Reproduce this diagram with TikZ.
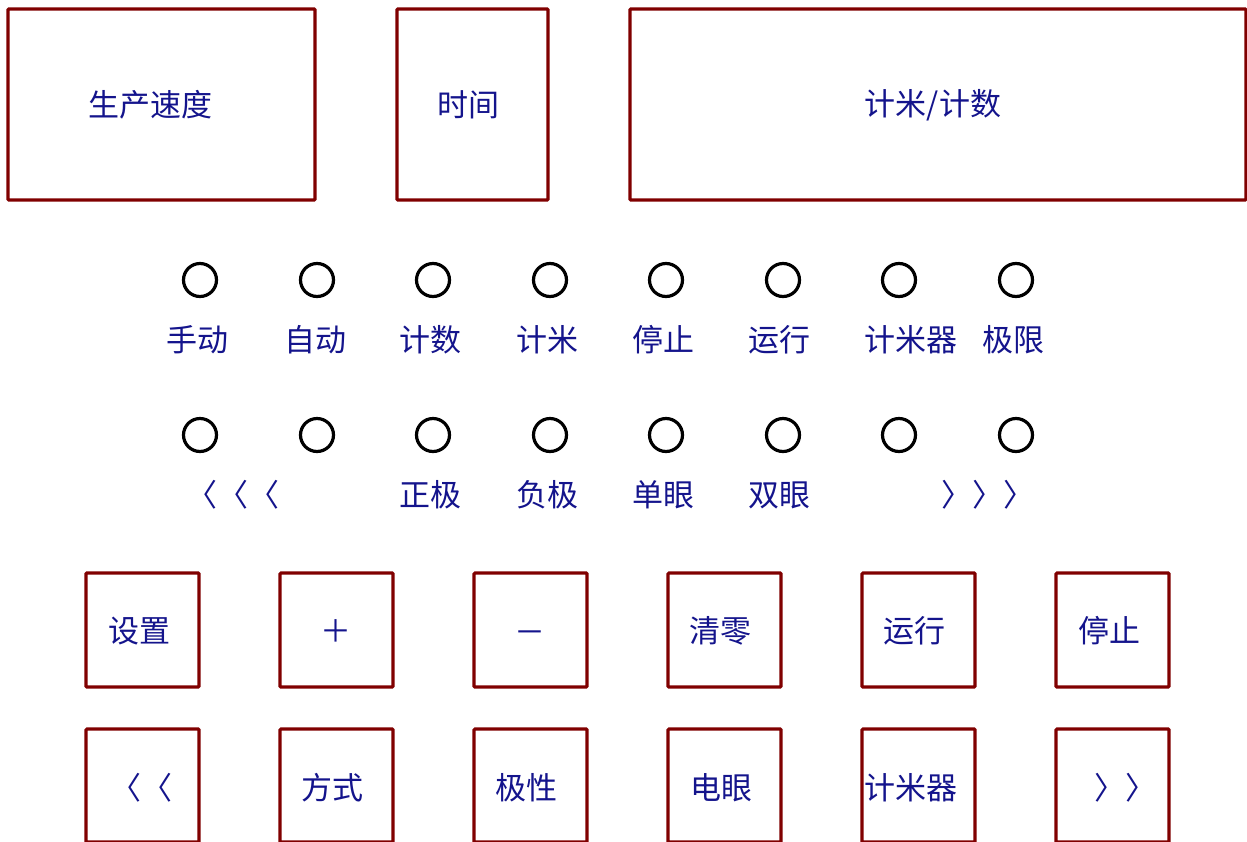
\documentclass[tikz,border=0pt]{standalone}
\usepackage{fontspec}
\setmainfont{Noto Sans CJK SC}
\definecolor{boxred}{RGB}{128,0,0}
\definecolor{txtblue}{RGB}{20,20,140}
\begin{document}
\begin{tikzpicture}[x=1pt,y=-1pt,
  panel/.style={draw=boxred,line width=3.2pt,rounded corners=1pt,inner sep=0pt},
  lamp/.style={draw=black,line width=3.2pt,circle,minimum size=33pt,inner sep=0pt},
  txt/.style={text=txtblue,font=\fontsize{31}{32}\selectfont,inner sep=0pt,anchor=center}]
\useasboundingbox (0,0) rectangle (1247,841);
\clip (0,0) rectangle (1247,841);
% top displays
\node[panel,minimum width=307pt,minimum height=191pt] (b1) at (161.5,104.5) {};
\node[panel,minimum width=151pt,minimum height=191pt] (b2) at (472.5,104.5) {};
\node[panel,minimum width=616pt,minimum height=191pt] (b3) at (938,104.5) {};
\node[txt] (t1) at (150,105) {生产速度};
\node[txt] (t2) at (468,105) {时间};
\node[txt] (t3) at (933,105) {计米/计数};
% lamps row 1
\foreach \i/\x in {1/200,2/317,3/433,4/550,5/666,6/783,7/899,8/1016}
  \node[lamp] (la\i) at (\x,280) {};
\node[txt] (lt1) at (197,340) {手动};
\node[txt] (lt2) at (315,340) {自动};
\node[txt] (lt3) at (430,340) {计数};
\node[txt] (lt4) at (547,340) {计米};
\node[txt] (lt5) at (663,340) {停止};
\node[txt] (lt6) at (779,340) {运行};
\node[txt] (lt7) at (911,340) {计米器};
\node[txt] (lt8) at (1013,340) {极限};
% lamps row 2
\foreach \i/\x in {1/200,2/317,3/433,4/550,5/666,6/783,7/899,8/1016}
  \node[lamp] (lb\i) at (\x,435) {};
\node[txt] (mt1) at (233,495) {〈〈〈};
\node[txt] (mt3) at (430,495) {正极};
\node[txt] (mt4) at (547,495) {负极};
\node[txt] (mt5) at (663,495) {单眼};
\node[txt] (mt6) at (779,495) {双眼};
\node[txt] (mt8) at (988,495) {〉〉〉};
% keys row 1
\foreach \i/\x in {1/142.5,2/336.5,3/530.5,4/724.5,5/918.5,6/1112.5}
  \node[panel,minimum width=113pt,minimum height=114pt] (ka\i) at (\x,630) {};
\node[txt] (kt1) at (139,631) {设置};
\node[txt] (kt2) at (336,631) {＋};
\node[txt] (kt3) at (530,637) {－};
\node[txt] (kt4) at (720,631) {清零};
\node[txt] (kt5) at (914,631) {运行};
\node[txt] (kt6) at (1109,631) {停止};
% keys row 2
\foreach \i/\x in {1/142.5,2/336.5,3/530.5,4/724.5,5/918.5,6/1112.5}
  \node[panel,minimum width=113pt,minimum height=113pt] (kb\i) at (\x,785.5) {};
\node[txt] (ku1) at (141,788) {〈〈};
\node[txt] (ku2) at (332,788) {方式};
\node[txt] (ku3) at (526,788) {极性};
\node[txt] (ku4) at (721,788) {电眼};
\node[txt] (ku5) at (911,788) {计米器};
\node[txt] (ku6) at (1125,788) {〉〉};
\end{tikzpicture}
\end{document}
